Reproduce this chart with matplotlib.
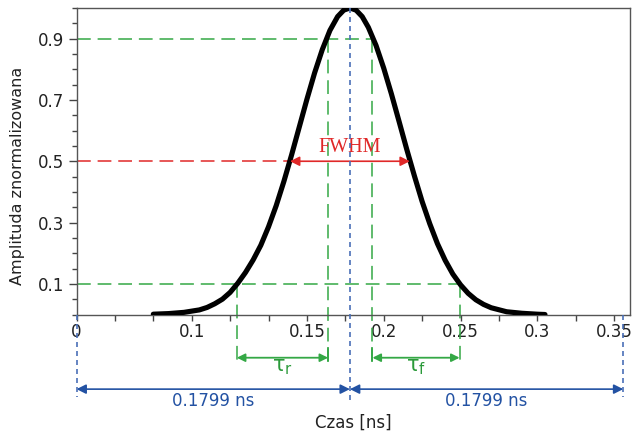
import numpy as np
import matplotlib
matplotlib.use("Agg")
import matplotlib.pyplot as plt

# ---------------- data ----------------
time_ns = [0.050, 0.060, 0.070, 0.080, 0.085, 0.090, 0.095, 0.100, 0.105,
           0.110, 0.115, 0.120, 0.125, 0.130, 0.135, 0.140, 0.145, 0.150,
           0.155, 0.160, 0.165, 0.170, 0.174, 0.178, 0.182, 0.186, 0.190,
           0.195, 0.200, 0.205, 0.210, 0.215, 0.220, 0.225, 0.230, 0.235,
           0.240, 0.245, 0.250, 0.255, 0.260, 0.265, 0.270, 0.280, 0.290,
           0.300, 0.305]
amplitude = [0.001, 0.003, 0.007, 0.015, 0.023, 0.035, 0.050, 0.072, 0.102,
             0.137, 0.178, 0.226, 0.286, 0.355, 0.434, 0.520, 0.611, 0.702,
             0.788, 0.864, 0.927, 0.972, 0.993, 1.000, 0.993, 0.972, 0.937,
             0.878, 0.804, 0.720, 0.630, 0.539, 0.452, 0.369, 0.296, 0.231,
             0.177, 0.132, 0.097, 0.069, 0.048, 0.033, 0.022, 0.009, 0.004,
             0.001, 0.000]

levels = [0.1, 0.5, 0.9]                 # 10 %, 50 %, 90 % levels
rise_times = [0.1044, 0.1638]            # 10 % and 90 % crossing, rising edge
fall_times = [0.1927, 0.2494]            # 90 % and 10 % crossing, falling edge
fwhm_times = [0.139, 0.217]              # 50 % crossings
pulse_center = 0.178
window_edges = [0.0, 0.178, 0.356]
span_label = "0.1799 ns"

x_ticks = [0.0, 0.025, 0.05, 0.075, 0.1, 0.125, 0.15, 0.175, 0.2, 0.225,
           0.25, 0.275, 0.3, 0.325, 0.35]
x_tick_labels = ["0", "", "", "0.1", "", "", "0.15", "", "0.2", "", "0.25",
                 "", "0.3", "", "0.35"]
y_major = [0.1, 0.3, 0.5, 0.7, 0.9]
y_major_labels = ["0.1", "0.3", "0.5", "0.7", "0.9"]
y_minor = [0.0, 0.05, 0.15, 0.2, 0.25, 0.35, 0.4, 0.45, 0.55, 0.6, 0.65,
           0.75, 0.8, 0.85, 0.95, 1.0]

# ---------------- style ----------------
plt.rcParams["font.family"] = ["DejaVu Sans"]
GREEN = "#34a845"
GREEN_T = "#2b9a3a"
RED = "#e02828"
BLUE_L = "#4a70b8"
BLUE = "#2352a3"
FS = 12
dash = (0, (9, 4.5))
dot = (0, (3, 2.4))

fig = plt.figure(figsize=(6.33, 4.36), dpi=100)
ax = fig.add_axes([76.5 / 633, 1 - 314.5 / 436, 553.5 / 633, 306.5 / 436])
ax.set_xlim(0, 553.5 / 1536)
ax.set_ylim(0, 1.0)

# pulse
ax.plot(time_ns, amplitude, color="black", lw=3.7, solid_joinstyle="round",
        solid_capstyle="round", zorder=3)

# level lines
ax.plot([0, fall_times[0]], [levels[2], levels[2]], color=GREEN, lw=1.1, ls=dash, zorder=2)
ax.plot([0, fall_times[1]], [levels[0], levels[0]], color=GREEN, lw=1.1, ls=dash, zorder=2)
ax.plot([0, fwhm_times[0]], [levels[1], levels[1]], color=RED, lw=1.1, ls=dash, zorder=2)

# vertical green lines down below the axis
Y_TAU = -0.141
Y_GLOW = -0.152
for t, lv in [(rise_times[0], levels[0]), (rise_times[1], levels[2]),
              (fall_times[0], levels[2]), (fall_times[1], levels[0])]:
    ax.plot([t, t], [lv, Y_GLOW], color=GREEN, lw=1.1, ls=dash, clip_on=False, zorder=2)
for t in [rise_times[1], fall_times[0]]:
    ax.plot([t, t], [-0.11, Y_GLOW], color=GREEN, lw=1.3, clip_on=False, zorder=2)

# FWHM arrow
ax.annotate("", xy=(fwhm_times[1], levels[1]), xytext=(fwhm_times[0], levels[1]),
            arrowprops=dict(arrowstyle="<|-|>", color=RED, lw=1.2,
                            mutation_scale=14, shrinkA=0, shrinkB=0), zorder=4)
ax.text(pulse_center, levels[1] + 0.014, "FWHM", color=RED, ha="center", va="bottom",
        fontsize=14.5, family="Liberation Serif", zorder=4)

# tau arrows
for (a, b), lab in [((rise_times[0], rise_times[1]), r"$\mathregular{\tau_r}$"),
                    ((fall_times[0], fall_times[1]), r"$\mathregular{\tau_f}$")]:
    ax.annotate("", xy=(b, Y_TAU), xytext=(a, Y_TAU),
                arrowprops=dict(arrowstyle="<|-|>", color=GREEN, lw=1.3,
                                mutation_scale=12, shrinkA=0, shrinkB=0),
                annotation_clip=False)
    ax.text((a + b) / 2, -0.17, lab, color=GREEN_T, ha="center", va="center",
            fontsize=15, clip_on=False)

# blue dotted verticals
ax.plot([window_edges[0]] * 2, [0, -0.27], color=BLUE_L, lw=1.2, ls=dot, clip_on=False, zorder=4)
ax.plot([window_edges[1]] * 2, [1.0, -0.28], color=BLUE_L, lw=1.2, ls=dot, clip_on=False, zorder=4)
ax.plot([window_edges[2]] * 2, [0, -0.27], color=BLUE_L, lw=1.2, ls=dot, clip_on=False, zorder=4)

Y_SPAN = -0.2435
for a, b in [(window_edges[0], window_edges[1]), (window_edges[1], window_edges[2])]:
    ax.annotate("", xy=(b, Y_SPAN), xytext=(a, Y_SPAN),
                arrowprops=dict(arrowstyle="<|-|>", color=BLUE, lw=1.2,
                                mutation_scale=14, shrinkA=0, shrinkB=0),
                annotation_clip=False)
    ax.text((a + b) / 2, -0.283, span_label, color=BLUE, ha="center", va="center",
            fontsize=FS, clip_on=False)

# axes styling
ax.set_xticks(x_ticks)
ax.set_xticklabels(x_tick_labels)
ax.set_yticks(y_major)
ax.set_yticklabels(y_major_labels)
ax.set_yticks(y_minor, minor=True)
ax.tick_params(axis="x", direction="out", length=4, width=1, pad=2,
               labelsize=FS, colors="#444444", labelcolor="#222222")
ax.tick_params(axis="y", which="major", direction="out", length=6, width=1, pad=3,
               labelsize=FS, colors="#444444", labelcolor="#222222")
ax.tick_params(axis="y", which="minor", direction="out", length=3.5, width=1,
               colors="#444444")
for s in ax.spines.values():
    s.set_color("#555555")
    s.set_linewidth(1.0)

ax.set_xlabel("Czas [ns]", fontsize=FS, color="#222222")
ax.xaxis.set_label_coords(0.5, (314.5 - 414) / 306.5)
ax.set_ylabel("Amplituda znormalizowana", fontsize=11.5, color="#222222")
ax.yaxis.set_label_coords((25 - 76.5) / 553.5, (314.5 - 176) / 306.5)

fig.savefig("out.png", dpi=100)
